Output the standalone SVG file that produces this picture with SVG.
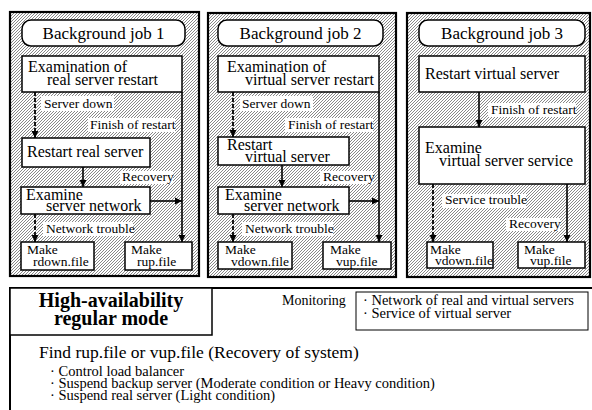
<svg xmlns="http://www.w3.org/2000/svg" width="592" height="410" viewBox="0 0 592 410">
<defs>
<pattern id="hatch" patternUnits="userSpaceOnUse" width="3" height="3">
<path d="M-1,1 L1,-1 M0,3 L3,0 M2,4 L4,2" stroke="#555" stroke-width="0.7"/>
</pattern>
<marker id="ah" viewBox="0 0 10 10" refX="10" refY="5" markerWidth="7" markerHeight="8" markerUnits="userSpaceOnUse" orient="auto">
<path d="M0,0 L10,5 L0,10 z" fill="#000"/>
</marker>
</defs>
<style>
text{font-family:"Liberation Serif","Times New Roman",serif;fill:#000}
.panel{fill:url(#hatch);stroke:#000;stroke-width:2.2}
.title{fill:#fff;stroke:#000;stroke-width:1.5}
.box{fill:#fff;stroke:#000;stroke-width:1.5}
.lbl{fill:#fff;stroke:none}
.tt{font-size:17px}
.bt{font-size:16px}
.mk{font-size:13.5px}
.lt{font-size:13.5px}
.bl{font-size:14.5px}
.solid{fill:none;stroke:#000;stroke-width:1.6}
.dash{fill:none;stroke:#000;stroke-width:1.8;stroke-dasharray:4 2}
.arr{marker-end:url(#ah)}
</style>

<g id="panel1">
<rect class="panel" x="10" y="12" width="189" height="264"/>
</g>
<g id="panel2">
<rect class="panel" x="208" y="13" width="188" height="264"/>
</g>
<g id="panel3">
<rect class="panel" x="407" y="13" width="183" height="264"/>
</g>

<g id="labels">
<rect class="lbl" x="41" y="96" width="73" height="15"/>
<text class="lt" x="44" y="108">Server down</text>
<rect class="lbl" x="88" y="118" width="87" height="14"/>
<text class="lt" x="90" y="129">Finish of restart</text>
<rect class="lbl" x="120" y="171" width="53" height="13"/>
<text class="lt" x="122" y="181">Recovery</text>
<rect class="lbl" x="43" y="222" width="90" height="14"/>
<text class="lt" x="46" y="233">Network trouble</text>

<rect class="lbl" x="240" y="96" width="73" height="15"/>
<text class="lt" x="242" y="108">Server down</text>
<rect class="lbl" x="285" y="118" width="88" height="14"/>
<text class="lt" x="288" y="129">Finish of restart</text>
<rect class="lbl" x="320" y="171" width="53" height="13"/>
<text class="lt" x="323" y="181">Recovery</text>
<rect class="lbl" x="242" y="222" width="91" height="14"/>
<text class="lt" x="245" y="233">Network trouble</text>

<rect class="lbl" x="488" y="103" width="88" height="14"/>
<text class="lt" x="491" y="114">Finish of restart</text>
<rect class="lbl" x="442" y="194" width="84" height="14"/>
<text class="lt" x="445" y="204">Service trouble</text>
<rect class="lbl" x="506" y="218" width="54" height="13"/>
<text class="lt" x="509" y="228">Recovery</text>
</g>

<g id="connectors">
<path class="dash arr" d="M35,92 V138"/>
<path class="solid arr" d="M182,92 V242"/>
<path class="solid arr" d="M83,167 V187"/>
<path class="solid arr" d="M150,201 H182"/>
<path class="dash arr" d="M35,214 V242"/>

<path class="dash arr" d="M233,92 V137"/>
<path class="solid arr" d="M379,92 V242"/>
<path class="solid arr" d="M282,165 V187"/>
<path class="solid arr" d="M349,201 H379"/>
<path class="dash arr" d="M233,214 V242"/>

<path class="solid arr" d="M479,92 V127"/>
<path class="dash arr" d="M433,184 V242"/>
<path class="solid arr" d="M567,184 V242"/>
</g>

<g id="job1-title">
<rect class="title" x="22" y="20" width="163" height="26" rx="9"/>
<text class="tt" x="103.5" y="39" text-anchor="middle">Background job 1</text>
</g>
<g id="job1-exam">
<rect class="box" x="22" y="56" width="160" height="36"/>
<text class="bt" x="28" y="72">Examination of</text>
<text class="bt" x="47" y="85">real server restart</text>
</g>
<g id="job1-restart">
<rect class="box" x="22" y="138" width="128" height="29"/>
<text class="bt" x="27" y="157">Restart real server</text>
</g>
<g id="job1-examine">
<rect class="box" x="21" y="187" width="129" height="27"/>
<text class="bt" x="26" y="199.5">Examine</text>
<text class="bt" x="46" y="211">server network</text>
</g>
<g id="job1-rdown">
<rect class="box" x="21" y="242" width="73" height="28"/>
<text class="mk" x="27" y="254">Make</text>
<text class="mk" x="33" y="266">rdown.file</text>
</g>
<g id="job1-rup">
<rect class="box" x="125" y="242" width="67" height="28"/>
<text class="mk" x="131" y="254">Make</text>
<text class="mk" x="137" y="266">rup.file</text>
</g>

<g id="job2-title">
<rect class="title" x="218" y="20" width="165" height="26" rx="9"/>
<text class="tt" x="300.5" y="39" text-anchor="middle">Background job 2</text>
</g>
<g id="job2-exam">
<rect class="box" x="218" y="56" width="161" height="36"/>
<text class="bt" x="227" y="72">Examination of</text>
<text class="bt" x="245" y="85">virtual server restart</text>
</g>
<g id="job2-restart">
<rect class="box" x="218" y="137" width="131" height="28"/>
<text class="bt" x="227" y="150">Restart</text>
<text class="bt" x="245" y="162">virtual server</text>
</g>
<g id="job2-examine">
<rect class="box" x="218" y="187" width="131" height="27"/>
<text class="bt" x="225" y="199.5">Examine</text>
<text class="bt" x="244" y="211">server network</text>
</g>
<g id="job2-vdown">
<rect class="box" x="218" y="242" width="74" height="27"/>
<text class="mk" x="225" y="254">Make</text>
<text class="mk" x="231" y="266">vdown.file</text>
</g>
<g id="job2-vup">
<rect class="box" x="323" y="242" width="68" height="27"/>
<text class="mk" x="330" y="254">Make</text>
<text class="mk" x="336" y="266">vup.file</text>
</g>

<g id="job3-title">
<rect class="title" x="419" y="20" width="166" height="26" rx="9"/>
<text class="tt" x="502" y="39" text-anchor="middle">Background job 3</text>
</g>
<g id="job3-restart">
<rect class="box" x="419" y="56" width="166" height="36"/>
<text class="bt" x="425" y="79">Restart virtual server</text>
</g>
<g id="job3-examine">
<rect class="box" x="419" y="127" width="166" height="57"/>
<text class="bt" x="425" y="153">Examine</text>
<text class="bt" x="439" y="166">virtual server service</text>
</g>
<g id="job3-vdown">
<rect class="box" x="427" y="242" width="66" height="26"/>
<text class="mk" x="430" y="254">Make</text>
<text class="mk" x="435" y="265">vdown.file</text>
</g>
<g id="job3-vup">
<rect class="box" x="518" y="242" width="67" height="26"/>
<text class="mk" x="524" y="254">Make</text>
<text class="mk" x="530" y="265">vup.file</text>
</g>

<g id="mode">
<path d="M592,288 H10 V410" fill="none" stroke="#000" stroke-width="2"/>
<rect x="10" y="288" width="202" height="47" fill="#fff" stroke="#000" stroke-width="1.5"/>
<text x="111" y="307" text-anchor="middle" font-size="20" font-weight="bold">High-availability</text>
<text x="111" y="325" text-anchor="middle" font-size="20" font-weight="bold">regular mode</text>
</g>
<g id="monitoring">
<text x="282" y="305" font-size="14">Monitoring</text>
<rect x="356" y="292" width="232" height="38" fill="#fff" stroke="#000" stroke-width="1"/>
<text x="363" y="305" font-size="14.5">· Network of real and virtual servers</text>
<text x="363" y="318" font-size="14.5">· Service of virtual server</text>
</g>
<g id="actions">
<text x="39" y="358" font-size="17.5">Find rup.file or vup.file (Recovery of system)</text>
<text class="bl" x="50" y="375.5">· Control load balancer</text>
<text class="bl" x="50" y="388">· Suspend backup server (Moderate condition or Heavy condition)</text>
<text class="bl" x="50" y="400">· Suspend real server (Light condition)</text>
</g>
</svg>
